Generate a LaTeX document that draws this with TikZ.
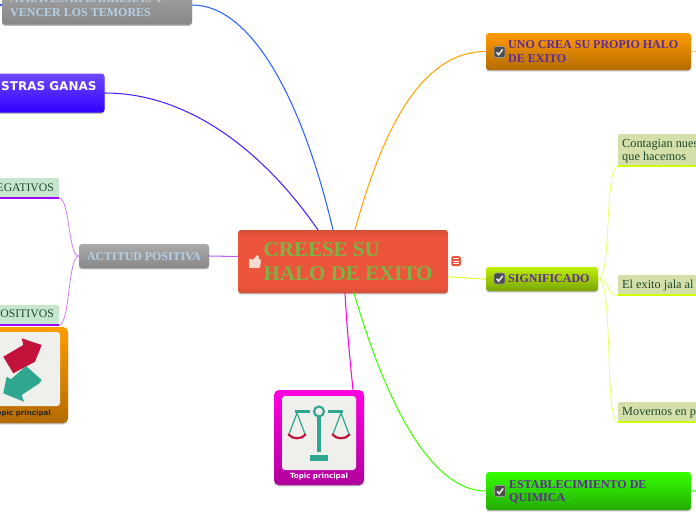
\documentclass[tikz,border=0pt]{standalone}
\usepackage{fontspec}
\setmainfont{Liberation Serif}
\newfontfamily\djfont{DejaVu Sans}
\usetikzlibrary{shadows}
\definecolor{cMain}{HTML}{EC553B}
\definecolor{cMainD}{HTML}{D44F38}
\definecolor{cGreenTxt}{HTML}{7CB342}
\definecolor{cPurpleTxt}{HTML}{5E2A9A}
\definecolor{cGrayTxt}{HTML}{B5D0E4}
\definecolor{cDarkTxt}{HTML}{1F4A2C}
\definecolor{cTeal}{HTML}{2FA68F}
\definecolor{cRed}{HTML}{C4133A}
\definecolor{cPaper}{HTML}{EFEFEB}
\definecolor{gT}{HTML}{ABABAB}
\definecolor{gB}{HTML}{878787}
\definecolor{bT}{HTML}{7048FF}
\definecolor{bB}{HTML}{3000FF}
\definecolor{oT}{HTML}{FF9B00}
\definecolor{oB}{HTML}{B46C00}
\definecolor{yT}{HTML}{BEF000}
\definecolor{yB}{HTML}{7AA500}
\definecolor{nT}{HTML}{34FF00}
\definecolor{nB}{HTML}{24AC00}
\definecolor{mT}{HTML}{FF00E0}
\definecolor{mB}{HTML}{B0009B}
\definecolor{leafG}{HTML}{C6E7CE}
\definecolor{leafY}{HTML}{D4DFA9}
\definecolor{ulP}{HTML}{A000FF}
\definecolor{ulY}{HTML}{CCFF00}
\definecolor{lnBlue}{HTML}{2962FF}
\definecolor{lnIndigo}{HTML}{4B1EFF}
\definecolor{lnOrange}{HTML}{FFA500}
\definecolor{lnOrangeL}{HTML}{FFBE5A}
\definecolor{lnYellow}{HTML}{E4FF30}
\definecolor{lnYellowL}{HTML}{E8FF60}
\definecolor{lnPurple}{HTML}{BF5FFF}
\definecolor{lnPurpleL}{HTML}{CC77FF}
\definecolor{lnMag}{HTML}{FF00DD}
\definecolor{lnGreen}{HTML}{44FF00}
\definecolor{lnGreenL}{HTML}{82FF6E}
\definecolor{cSkin}{HTML}{F2DCD2}
\pgfdeclareverticalshading{mainshade}{100bp}{color(0bp)=(cMainD);color(25bp)=(cMainD);color(30bp)=(cMain);color(70bp)=(cMain);color(75bp)=(cMainD);color(100bp)=(cMainD)}
\tikzset{
  x=1pt,y=-1pt,
  mmbox/.style={rounded corners=3pt,inner sep=0pt,drop shadow={shadow xshift=0pt,shadow yshift=-1.3pt,opacity=.28,fill=black}},
  labeltext/.style={inner sep=0pt,anchor=west,align=left},
  link/.style={line width=1.05pt},
  leaflink/.style={line width=.75pt},
  underline/.style={line width=2pt},
  leafbox/.style={fill=#1,rounded corners=1.5pt,inner sep=0pt},
  boldsmall/.style={font=\bfseries\fontsize{12}{13.6}\selectfont},
  leaftxt/.style={font=\fontsize{12.3}{13}\selectfont,text=cDarkTxt},
  lefttxt/.style={font=\fontsize{11.7}{13}\selectfont,text=cDarkTxt},
  tick/.pic={
    \fill[fill=black!70,draw=black!40,line width=.6pt,rounded corners=2.2pt] (-5.5,-5.5) rectangle (5.5,5.5);
    \draw[white!90!black,line width=1.6pt] (-3,.3) -- (-.8,2.6) -- (3.2,-2.6);
  }
}
\begin{document}
\begin{tikzpicture}
\useasboundingbox (0,0) rectangle (696,520);
\clip (0,0) rectangle (696,520);
\fill[white] (0,0) rectangle (696,520);

% boxes
\node[mmbox,shading=mainshade,minimum width=210pt,minimum height=63pt] (main) at (343,261.5) {};
\node[mmbox,top color=gT,bottom color=gB,minimum width=190pt,minimum height=44pt] (barr) at (97,2.5) {};
\node[mmbox,top color=bT,bottom color=bB,minimum width=124pt,minimum height=39pt] (ganas) at (42.5,93) {};
\node[mmbox,top color=gT,bottom color=gB,minimum width=130pt,minimum height=24pt] (acti) at (144,256) {};
\node[mmbox,top color=oT,bottom color=oB,minimum width=205pt,minimum height=37pt] (uno) at (588.5,51.5) {};
\node[mmbox,top color=yT,bottom color=yB,minimum width=112pt,minimum height=24pt] (signi) at (542,279) {};
\node[mmbox,top color=nT,bottom color=nB,minimum width=205pt,minimum height=38pt] (quim) at (588.5,491) {};

% leaves
\node[leafbox=leafG,minimum width=79pt,minimum height=20pt] (nega) at (19.5,188) {};
\node[leafbox=leafG,minimum width=79pt,minimum height=20pt] (posi) at (19.5,315) {};
\node[leafbox=leafY,minimum width=100pt,minimum height=32pt] (conta) at (668,150) {};
\node[leafbox=leafY,minimum width=100pt,minimum height=20pt] (jala) at (668,285) {};
\node[leafbox=leafY,minimum width=100pt,minimum height=20pt] (move) at (668,412) {};
\draw[underline,color=ulP] (nega.south west) -- (nega.south east);
\draw[underline,color=ulP] (posi.south west) -- (posi.south east);
\draw[underline,color=ulY] (conta.south west) -- (conta.south east);
\draw[underline,color=ulY] (jala.south west) -- (jala.south east);
\draw[underline,color=ulY] (move.south west) -- (move.south east);

% image topics
\node[mmbox,top color=mT,bottom color=mB,minimum width=90pt,minimum height=95pt,rounded corners=5pt] (bal) at (319,437.5) {};
\node[fill=cPaper,rounded corners=3pt,inner sep=0pt,minimum width=74pt,minimum height=74pt] (balpic) at (319,433) {};
\node[mmbox,top color=oT,bottom color=oB,minimum width=98pt,minimum height=96pt,rounded corners=5pt] (arro) at (19,375) {};
\node[fill=cPaper,rounded corners=3pt,inner sep=0pt,minimum width=90pt,minimum height=74pt] (arropic) at (15,369) {};

% connectors
\coordinate (m1) at (333,230);
\coordinate (m2) at (318,230);
\coordinate (m3) at (355,230);
\coordinate (m4) at (448,277);
\coordinate (m5) at (345,293);
\coordinate (m6) at (354,293);
\coordinate (m7) at (238,256.5);
\coordinate (e0) at (696,51.5);
\coordinate (e1) at (696,491);
\coordinate (e2) at (0,5);
\coordinate (barrE) at (192,5);
\coordinate (barrW) at (2,5);
\coordinate (balN) at (353,390);
\draw[link,color=lnBlue] (barrE) .. controls (255,5) and (305,110) .. (m1);
\draw[link,color=lnBlue] (e2) -- (barrW);
\draw[link,color=lnIndigo] (ganas.east) .. controls (195,93) and (270,160) .. (m2);
\draw[link,color=lnOrange] (m3) .. controls (385,120) and (425,51.5) .. (uno.west);
\draw[link,color=lnOrangeL] (uno.east) -- (e0);
\draw[link,color=lnYellow] (m4) .. controls (462,277) and (472,279) .. (signi.west);
\draw[link,color=lnPurple] (m7) -- (acti.east);
\draw[link,color=lnMag] (m5) .. controls (347,330) and (350,360) .. (balN);
\draw[link,color=lnGreen] (m6) .. controls (385,400) and (430,491) .. (quim.west);
\draw[link,color=lnGreenL] (quim.east) -- (e1);
\draw[leaflink,color=lnPurpleL] (acti.west) .. controls (68,256) and (70,199) .. (nega.south east);
\draw[leaflink,color=lnPurpleL] (acti.west) .. controls (68,256) and (70,324) .. (posi.south east);
\draw[leaflink,color=lnYellowL] (signi.east) .. controls (612,279) and (604,168) .. (conta.south west);
\draw[leaflink,color=lnYellowL] (signi.east) .. controls (610,279) and (606,295) .. (jala.south west);
\draw[leaflink,color=lnYellowL] (signi.east) .. controls (614,279) and (604,421) .. (move.south west);

% main label and icons
\node[labeltext,font=\bfseries\fontsize{21}{24}\selectfont,text=cGreenTxt] (mainT) at (263.5,261.5) {CREESE SU\\HALO DE EXITO};
\path[fill=cSkin] (248.5,259) rectangle (251.5,268);
\path[fill=cSkin,rounded corners=1pt] (252,259.5) -- (254.5,258.5) -- (257,254.8) -- (259,255.8) -- (258.5,259) -- (261,259.5) -- (260,268) -- (252,268) -- cycle;
\node[fill=cMain,rounded corners=1.5pt,inner sep=0pt,minimum width=9.5pt,minimum height=10pt] (note) at (456,261) {};
\foreach \yy in {-2.5,0,2.5}{\draw[white,line width=.7pt] ([xshift=-2.8pt,yshift=\yy pt]note.center) -- ([xshift=2.8pt,yshift=\yy pt]note.center);}

% box labels
\node[labeltext,boldsmall,text=cGrayTxt] (barrT) at (10,5.5) {ATRAVESAR BARRERAS Y\\VENCER LOS TEMORES};
\node[labeltext,font=\djfont\bfseries\fontsize{12}{15}\selectfont,text=white] (ganasT) at (1,86.5) {STRAS GANAS};
\node[inner sep=0pt,font=\bfseries\fontsize{11.9}{13}\selectfont,text=cGrayTxt] (actiT) at ([yshift=-.7pt]acti.center) {ACTITUD POSITIVA};
\node[labeltext,boldsmall,text=cPurpleTxt] (unoT) at (508,51.5) {UNO CREA SU PROPIO HALO\\DE EXITO};
\node[labeltext,boldsmall,text=cPurpleTxt] (signiT) at (508,278.7) {SIGNIFICADO};
\node[labeltext,boldsmall,text=cPurpleTxt] (quimT) at (509,492) {ESTABLECIMIENTO DE\\QUIMICA};
\pic at (499.5,52) {tick};
\pic at (499.5,278.5) {tick};
\pic at (500,491) {tick};

% leaf labels
\node[inner sep=0pt,anchor=east,lefttxt] (negaT) at (54,188) {EGATIVOS};
\node[inner sep=0pt,anchor=east,lefttxt] (posiT) at (54,314) {OSITIVOS};
\node[labeltext,leaftxt] (contaT) at (622,151) {Contagian nues\\que hacemos};
\node[labeltext,leaftxt] (jalaT) at (622,286) {El exito jala al e};
\node[labeltext,leaftxt] (moveT) at (622,413) {Movernos en pe};

% balance picture
\fill[cTeal] (295,410) rectangle (310,413);
\fill[cTeal] (328,410) rectangle (343,413);
\draw[cTeal,line width=2.1pt,fill=cPaper] (319,411.5) circle (5);
\fill[cTeal] (317.4,417) rectangle (320.8,452);
\fill[cTeal] (309.5,455) rectangle (328,461);
\draw[cTeal,line width=1.2pt] (289,434) -- (297,413) -- (305,434);
\draw[cTeal,line width=1.2pt] (333,434) -- (341,413) -- (349,434);
\draw[cRed,line width=2.2pt,line cap=round] (288.5,434.5) .. controls (292,439.5) and (302,439.5) .. (305.5,434.5);
\draw[cRed,line width=2.2pt,line cap=round] (332.5,434.5) .. controls (336,439.5) and (346,439.5) .. (349.5,434.5);
\node[inner sep=0pt,font=\djfont\bfseries\fontsize{7.1}{9}\selectfont,text=white] (balT) at (319,476.5) {Topic principal};

% arrows picture
\fill[cRed] (3.3,356.7) -- (13.3,373.3) -- (35,361.7) -- (41.7,345) -- (21.7,338.3) -- (23.3,345) -- cycle;
\fill[cTeal] (26,366) -- (41.7,380) -- (39.3,383.3) -- (21.7,395) -- (24,401.7) -- (3.3,393.3) -- (6.7,376.7) -- (11,379.3) -- cycle;
\node[inner sep=0pt,anchor=east,font=\djfont\bfseries\fontsize{7.1}{9}\selectfont,text=black!85] (arroT) at (51,413.5) {opic principal};
\end{tikzpicture}
\end{document}
